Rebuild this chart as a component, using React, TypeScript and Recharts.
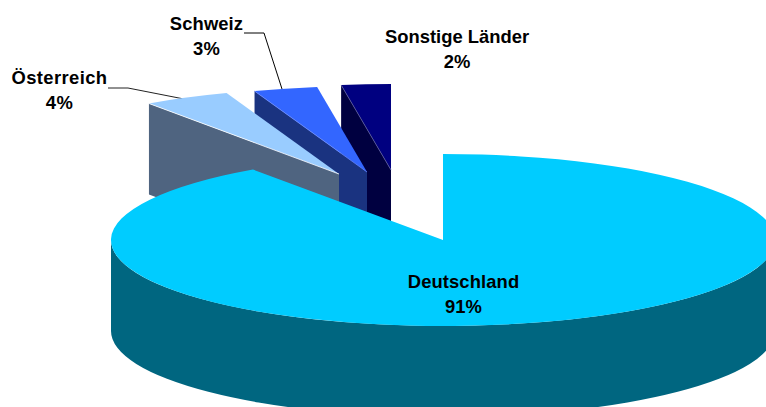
import { PieChart, Pie } from 'recharts';

// drawn back to front, going counter-clockwise from the top of the pie
const categories = ['Sonstige Länder', 'Schweiz', 'Österreich', 'Deutschland'];
const shares = [2.4, 3.1, 4.2, 90.3];
const percentLabels = ['2%', '3%', '4%', '91%'];

const data = categories.map((name, i) => ({ name, value: shares[i], percentLabel: percentLabels[i] }));

const TOP_COLORS = ['#000080', '#3366ff', '#99ccff', '#00ccff'];
const WALL_COLORS = ['#000040', '#1a3380', '#4f6480', '#006680'];
const EDGE_COLORS = ['#5a5a9a', '#6688ff', '#ffffff', 'none'];

// how far each slice is pulled out of the pie
const EXPLODE = [
  { dx: -52, dy: -70 },
  { dx: -76, dy: -68 },
  { dx: -104, dy: -66 },
  { dx: 0, dy: 0 },
];

const LABELS = [
  { x: 457, y: 43, spacing: 0 },
  { x: 206.5, y: 30, spacing: 0.1 },
  { x: 59.5, y: 84, spacing: 0.4 },
  { x: 463.5, y: 288, spacing: 0.1 },
];

const SQUASH = 0.259;
const DEPTH = 91;
const RAD = Math.PI / 180;

function Slice3D(props: any) {
  const { cx, cy, outerRadius, startAngle, endAngle, index } = props;
  const rx = outerRadius;
  const ry = outerRadius * SQUASH;
  const ax = cx + EXPLODE[index].dx;
  const ay = cy + EXPLODE[index].dy;
  const pt = (deg: number) => [ax + rx * Math.cos(deg * RAD), ay - ry * Math.sin(deg * RAD)];

  const [sx, sy] = pt(startAngle);
  const [ex, ey] = pt(endAngle);
  const large = endAngle - startAngle > 180 ? 1 : 0;
  const top = `M${ax},${ay} L${sx},${sy} A${rx},${ry} 0 ${large} 0 ${ex},${ey} Z`;

  // outer wall, only the front half of the rim can be seen
  const from = Math.max(startAngle, 180);
  const to = Math.min(endAngle, 360);
  let rim = null;
  if (to > from) {
    const [x1, y1] = pt(from);
    const [x2, y2] = pt(to);
    rim = `M${x1},${y1} A${rx},${ry} 0 0 0 ${x2},${y2} L${x2},${y2 + DEPTH} A${rx},${ry} 0 0 1 ${x1},${y1 + DEPTH} Z`;
  }

  const exploded = EXPLODE[index].dx !== 0;
  const side = `M${ex},${ey} L${ax},${ay} L${ax},${ay + DEPTH} L${ex},${ey + DEPTH} Z`;

  return (
    <g>
      {exploded && <path d={side} fill={WALL_COLORS[index]} stroke="none" />}
      {rim && <path d={rim} fill={WALL_COLORS[index]} stroke="none" />}
      <path d={top} fill={TOP_COLORS[index]} stroke="none" />
      {exploded && (
        <line x1={ex} y1={ey} x2={ax} y2={ay} stroke={EDGE_COLORS[index]} strokeWidth={1} strokeOpacity={0.8} />
      )}
    </g>
  );
}

function SliceLabel(props: any) {
  const { index, payload } = props;
  const pos = LABELS[index];
  const name = payload?.name ?? categories[index];
  const pct = payload?.percentLabel ?? percentLabels[index];
  const textStyle = {
    fontFamily: '"Liberation Sans", Arial, sans-serif',
    fontSize: 18.4,
    fontWeight: 700,
    fill: '#000',
    letterSpacing: pos.spacing,
  };
  return (
    <g>
      <text x={pos.x} y={pos.y} textAnchor="middle" style={textStyle}>{name}</text>
      <text x={pos.x} y={pos.y + 25} textAnchor="middle" style={textStyle}>{pct}</text>
    </g>
  );
}

export default function App() {
  return (
    <div style={{ position: 'absolute', left: 0, top: 0, width: 766, height: 407, overflow: 'hidden', background: '#fff' }}>
      <PieChart width={766} height={407} margin={{ top: 0, right: 0, bottom: 0, left: 0 }}>
        <Pie
          data={data}
          dataKey="value"
          nameKey="name"
          cx={443}
          cy={240}
          innerRadius={0}
          outerRadius={332}
          startAngle={90}
          endAngle={450}
          paddingAngle={0}
          stroke="none"
          shape={Slice3D}
          label={SliceLabel}
          labelLine={false}
          isAnimationActive={false}
        />
        {/* leader lines */}
        <polyline points="108,88 128,88 184,99" fill="none" stroke="#222" strokeWidth={1} />
        <polyline points="244,33 264,33 282,89" fill="none" stroke="#000" strokeWidth={1} />
      </PieChart>
    </div>
  );
}
